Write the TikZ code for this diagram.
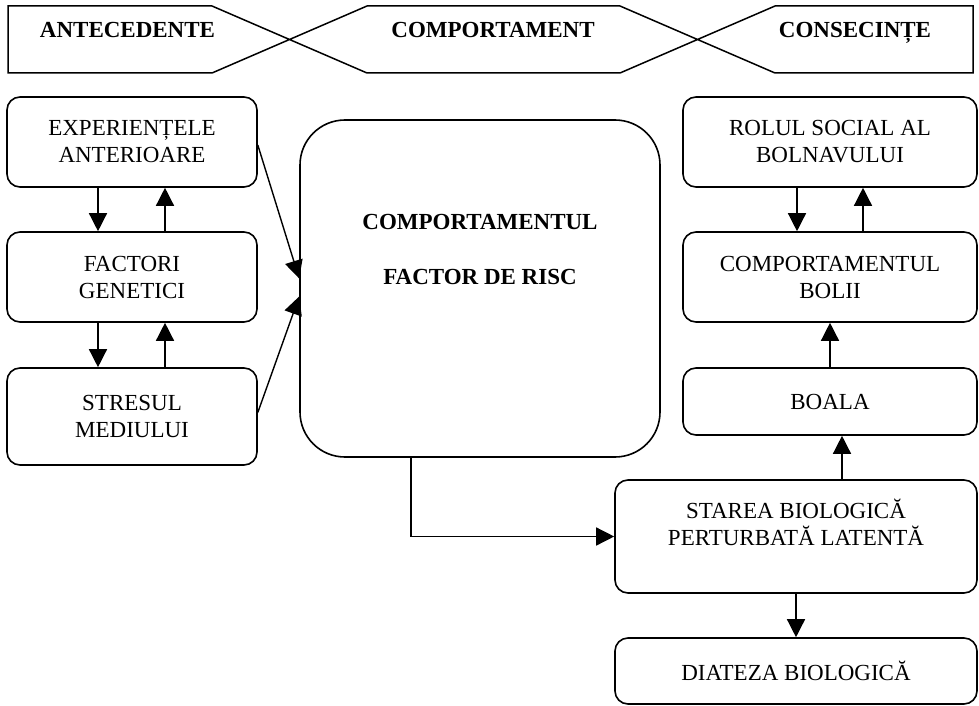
\documentclass[tikz,border=0pt]{standalone}
\usepackage{fontspec}
\setmainfont{Liberation Serif}
\usetikzlibrary{arrows.meta,calc}

\tikzset{
  stage/.style={font=\fontsize{23}{27}\selectfont\bfseries, anchor=base},
  boxtext/.style={font=\fontsize{23}{27}\selectfont, align=center},
  smallbox/.style={draw, line width=1.6pt, rounded corners=13pt,
    minimum width=#1, inner sep=0pt, boxtext},
  tallbox/.style={draw, line width=1.6pt, rounded corners=45pt, inner sep=0pt},
  link/.style={line width=1.4pt, -{Triangle[length=18pt,width=18pt]}},
}

\begin{document}
\begin{tikzpicture}[x=1pt, y=-1pt]
\useasboundingbox (0,0) rectangle (979,706);

% banner with the three stages
\draw[line width=1.5pt, line join=miter]
  (8,6) -- (212,6) -- (367,73) -- (620,73) -- (775,6) -- (973,6)
  -- (973,73) -- (775,73) -- (620,6) -- (367,6) -- (212,73) -- (8,73) -- cycle;
\node[stage] (ante) at (127.5,37.5) {ANTECEDENTE};
\node[stage] (comp) at (493,37.5) {COMPORTAMENT};
\node[stage] (cons) at (855,37.5) {CONSECINȚE};

% antecedents
\node[smallbox=250pt, minimum height=90pt] (exp) at (132,142) {EXPERIENȚELE\\ANTERIOARE};
\node[smallbox=250pt, minimum height=90pt] (gen) at (132,277) {FACTORI\\GENETICI};
\node[smallbox=250pt, minimum height=97pt] (stres) at (132,416.5) {STRESUL\\MEDIULUI};

% behaviour
\node[tallbox, minimum width=360pt, minimum height=337pt] (central) at (480,288.5) {};
\node[font=\fontsize{23}{55}\selectfont\bfseries, align=center, anchor=base]
  (centraltext) at (480,284) {COMPORTAMENTUL\\FACTOR DE RISC};

% consequences
\node[smallbox=294pt, minimum height=90pt] (rol) at (830,142) {ROLUL SOCIAL AL\\BOLNAVULUI};
\node[smallbox=294pt, minimum height=90pt] (cboli) at (830,277) {COMPORTAMENTUL\\BOLII};
\node[smallbox=294pt, minimum height=67pt] (boala) at (830,401.5) {BOALA};
\node[smallbox=362pt, minimum height=113pt] (starea) at (796,536.5) {};
\node[boxtext, anchor=base] (stareatext) at (796,545) {STAREA BIOLOGICĂ\\PERTURBATĂ LATENTĂ};
\node[smallbox=362pt, minimum height=66pt] (diat) at (796,671) {DIATEZA BIOLOGICĂ};

% links between antecedents
\draw[link] ($(exp.south)+(-34,0)$) -- ($(gen.north)+(-34,0)$);
\draw[link] ($(gen.north)+(33,0)$) -- ($(exp.south)+(33,0)$);
\draw[link] ($(gen.south)+(-34,0)$) -- ($(stres.north)+(-34,0)$);
\draw[link] ($(stres.north)+(33,0)$) -- ($(gen.south)+(33,0)$);

% antecedents into the behaviour
\draw[link] ($(exp.east)+(0,3)$) -- ($(central.west)+(0,-10)$);
\draw[link] ($(stres.east)+(0,-4)$) -- ($(central.west)+(0,8)$);

% behaviour to the latent state
\draw[link] ($(central.south)+(-69,0)$) |- (starea.west);

% consequences chain
\draw[link] (starea.south) -- (diat.north);
\draw[link] ($(starea.north)+(46,0)$) -- ($(boala.south)+(12,0)$);
\draw[link] (boala.north) -- (cboli.south);
\draw[link] ($(rol.south)+(-33,0)$) -- ($(cboli.north)+(-33,0)$);
\draw[link] ($(cboli.north)+(33,0)$) -- ($(rol.south)+(33,0)$);
\end{tikzpicture}
\end{document}
